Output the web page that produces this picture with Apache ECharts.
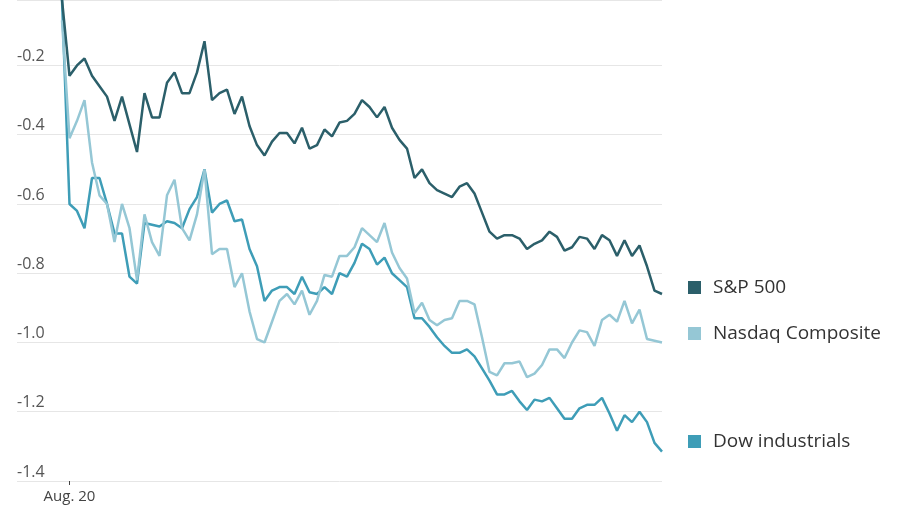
<!DOCTYPE html>
<html><head><meta charset="utf-8">
<script src="https://cdn.jsdelivr.net/npm/echarts@6/dist/echarts.min.js"></script>
<style>html,body{margin:0;padding:0;background:#fff}#c{width:900px;height:510px}</style>
</head><body><div id="c"></div>
<script>
const seriesNames = ["S&P 500", "Nasdaq Composite", "Dow industrials"];
const xTickValues = [1];
const xTickLabels = {1: "Aug. 20"};
const yTicks = [-1.4, -1.2, -1.0, -0.8, -0.6, -0.4, -0.2];
const sp500 = [-0.01,-0.23,-0.20,-0.18,-0.23,-0.26,-0.29,-0.36,-0.29,-0.37,-0.45,-0.28,-0.35,-0.35,-0.25,-0.22,-0.28,-0.28,-0.22,-0.13,
 -0.30,-0.28,-0.27,-0.34,-0.29,-0.375,-0.43,-0.46,-0.42,-0.395,-0.395,-0.425,-0.38,-0.44,-0.43,-0.385,-0.405,-0.365,-0.36,-0.34,
 -0.30,-0.32,-0.35,-0.32,-0.38,-0.415,-0.44,-0.525,-0.50,-0.54,-0.56,-0.57,-0.58,-0.55,-0.54,-0.57,-0.625,-0.68,-0.70,-0.69,
 -0.69,-0.70,-0.73,-0.715,-0.705,-0.68,-0.695,-0.735,-0.725,-0.695,-0.70,-0.73,-0.69,-0.705,-0.75,-0.705,-0.75,-0.72,-0.78,-0.85,-0.86];
const nasdaq = [-0.07,-0.41,-0.36,-0.30,-0.48,-0.575,-0.60,-0.71,-0.60,-0.67,-0.82,-0.63,-0.71,-0.75,-0.575,-0.53,-0.67,-0.705,-0.63,-0.50,
 -0.745,-0.73,-0.73,-0.84,-0.80,-0.91,-0.99,-1.0,-0.94,-0.88,-0.86,-0.89,-0.85,-0.92,-0.88,-0.805,-0.81,-0.75,-0.75,-0.725,
 -0.67,-0.69,-0.71,-0.655,-0.74,-0.785,-0.815,-0.915,-0.885,-0.935,-0.95,-0.935,-0.93,-0.88,-0.88,-0.89,-0.985,-1.085,-1.095,-1.06,
 -1.06,-1.055,-1.10,-1.09,-1.065,-1.02,-1.02,-1.045,-1.0,-0.965,-0.97,-1.01,-0.935,-0.92,-0.94,-0.88,-0.945,-0.905,-0.99,-0.995,-1.0];
const dow = [-0.01,-0.60,-0.62,-0.67,-0.525,-0.525,-0.60,-0.685,-0.685,-0.81,-0.83,-0.655,-0.66,-0.665,-0.65,-0.655,-0.67,-0.615,-0.58,-0.50,
 -0.625,-0.60,-0.59,-0.65,-0.645,-0.73,-0.78,-0.88,-0.85,-0.84,-0.84,-0.86,-0.81,-0.855,-0.86,-0.84,-0.86,-0.80,-0.81,-0.77,
 -0.715,-0.73,-0.775,-0.755,-0.80,-0.82,-0.84,-0.93,-0.93,-0.955,-0.985,-1.01,-1.03,-1.03,-1.02,-1.04,-1.075,-1.11,-1.15,-1.15,
 -1.14,-1.17,-1.195,-1.165,-1.17,-1.16,-1.19,-1.22,-1.22,-1.19,-1.18,-1.18,-1.16,-1.205,-1.255,-1.21,-1.23,-1.20,-1.23,-1.29,-1.315];
const colors = ["#2b5f6a", "#95c7d5", "#3e9db7"];
const allData = [sp500, nasdaq, dow];
const legendTops = [273, 319, 427];

const chart = echarts.init(document.getElementById('c'));
chart.setOption({
  animation: false,
  grid: {left: 17, right: 238, top: 0, bottom: 29},
  xAxis: {
    type: 'value', min: -6, max: 80,
    splitLine: {show: false}, axisLine: {show: false},
    axisTick: {show: true, length: 4, lineStyle: {color: '#444'}, customValues: xTickValues},
    axisLabel: {show: true, margin: 8, fontSize: 15, color: '#444', fontFamily: 'Open Sans',
      customValues: xTickValues, formatter: v => xTickLabels[v] || ''}
  },
  yAxis: {
    type: 'value', min: -1.4, max: -0.011, interval: 0.2,
    axisLine: {show: false}, axisTick: {show: false},
    splitLine: {lineStyle: {color: '#e6e6e6', width: 1}},
    axisLabel: {inside: true, verticalAlign: 'bottom', margin: 0, padding: [0,0,1,0], fontSize: 16, color: '#555', fontFamily: 'Open Sans',
      formatter: v => yTicks.some(t => Math.abs(t - v) < 1e-6) ? v.toFixed(1) : ''}
  },
  legend: seriesNames.map((n, i) => ({
    data: [n], left: 683, top: legendTops[i], icon: 'rect', itemWidth: 13, itemHeight: 13,
    textStyle: {fontSize: 19, color: '#333', fontFamily: 'Open Sans', padding: [0,0,0,7]}
  })),
  series: seriesNames.map((n, i) => ({
    name: n, type: 'line', symbol: 'none', color: colors[i],
    lineStyle: {width: 2.5, color: colors[i]},
    z: 3 - i,
    data: allData[i].map((v, k) => [k, v])
  }))
});
</script></body></html>
